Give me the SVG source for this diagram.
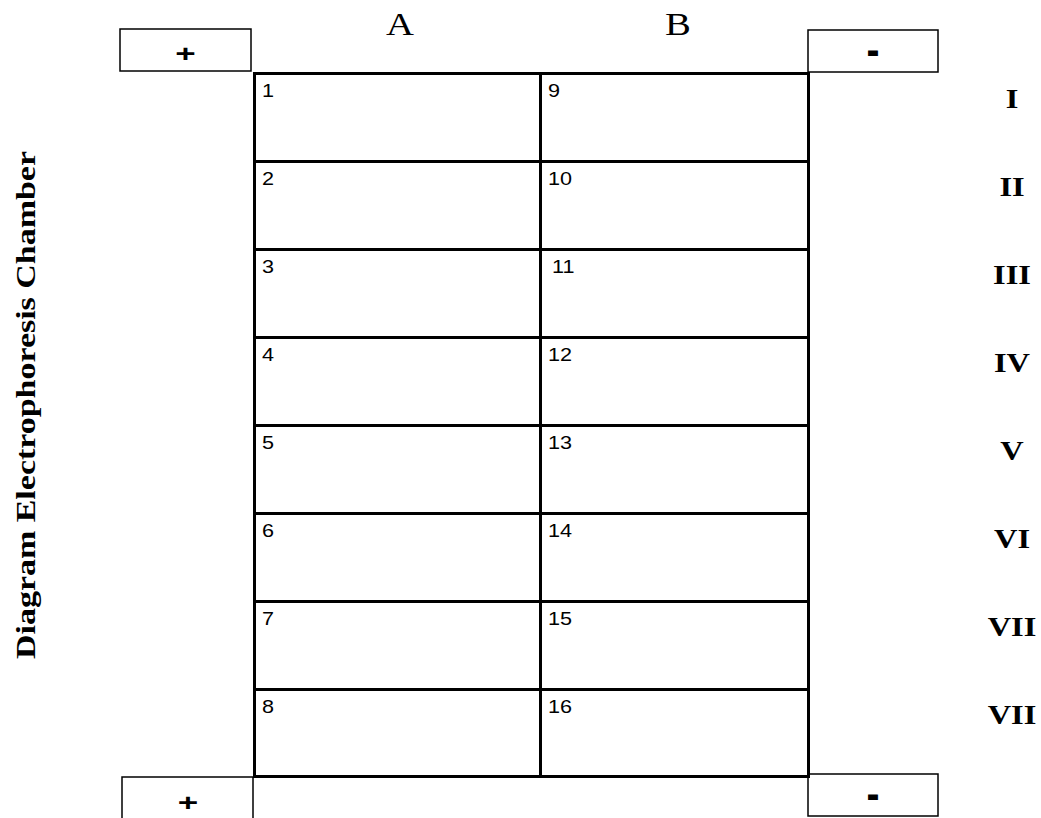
<svg xmlns="http://www.w3.org/2000/svg" width="1041" height="818" viewBox="0 0 1041 818">
<style>
.grid{fill:none;stroke:#000;stroke-width:3}
.box{fill:#fff;stroke:#000;stroke-width:1.5}
.num{font-family:"Liberation Sans",Arial,sans-serif;font-size:18px;fill:#000}
.sign{font-family:"Liberation Sans",Arial,sans-serif;font-size:28px;font-weight:bold;fill:#000;text-anchor:middle}
.minus{font-family:"Liberation Sans",Arial,sans-serif;font-size:26px;font-weight:bold;fill:#000;text-anchor:middle}
.col{font-family:"Liberation Serif","Times New Roman",serif;font-size:31px;fill:#000;text-anchor:middle}
.rom{font-family:"Liberation Serif","Times New Roman",serif;font-size:27px;font-weight:bold;fill:#000;text-anchor:middle}
.title{font-family:"Liberation Serif","Times New Roman",serif;font-size:28px;font-weight:bold;fill:#000;text-anchor:middle}
</style>
<rect width="1041" height="818" fill="#fff"/>
<g id="title"><text class="title" transform="translate(35,405) rotate(-90)" textLength="508" lengthAdjust="spacingAndGlyphs">Diagram Electrophoresis Chamber</text></g>
<g id="col-A"><text class="col" transform="translate(400,35) scale(1.25,1)">A</text></g>
<g id="col-B"><text class="col" transform="translate(678,35) scale(1.25,1)">B</text></g>
<g id="plus-top"><rect class="box" x="120" y="29" width="131" height="42"/><text class="sign" transform="translate(185.5,61.5) scale(1.25,0.85)">+</text></g>
<g id="minus-top"><rect class="box" x="808" y="30" width="130" height="42"/><text class="minus" transform="translate(873,65) scale(1.5,1.8)">-</text></g>
<g id="plus-bottom"><path class="box" d="M122,830 V777 H253 V830"/><text class="sign" transform="translate(188,810.5) scale(1.25,0.85)">+</text></g>
<g id="minus-bottom"><rect class="box" x="808" y="774" width="130" height="42"/><text class="minus" transform="translate(873,808.5) scale(1.5,1.8)">-</text></g>
<g id="chamber">
<rect class="grid" x="254.5" y="73.5" width="554" height="703"/>
<path class="grid" d="M540.5,73 V777 M254,161.5 H809 M254,249.5 H809 M254,337.5 H809 M254,425.5 H809 M254,513.5 H809 M254,601.5 H809 M254,689.5 H809"/>
</g>
<g id="cells">
<g id="cell-1"><text class="num" transform="translate(262,97) scale(1.2,1)">1</text></g>
<g id="cell-2"><text class="num" transform="translate(262,185) scale(1.2,1)">2</text></g>
<g id="cell-3"><text class="num" transform="translate(262,273) scale(1.2,1)">3</text></g>
<g id="cell-4"><text class="num" transform="translate(262,361) scale(1.2,1)">4</text></g>
<g id="cell-5"><text class="num" transform="translate(262,449) scale(1.2,1)">5</text></g>
<g id="cell-6"><text class="num" transform="translate(262,537) scale(1.2,1)">6</text></g>
<g id="cell-7"><text class="num" transform="translate(262,625) scale(1.2,1)">7</text></g>
<g id="cell-8"><text class="num" transform="translate(262,713) scale(1.2,1)">8</text></g>
<g id="cell-9"><text class="num" transform="translate(548,97) scale(1.2,1)">9</text></g>
<g id="cell-10"><text class="num" transform="translate(548,185) scale(1.2,1)">10</text></g>
<g id="cell-11"><text class="num" transform="translate(552,273) scale(1.2,1)">11</text></g>
<g id="cell-12"><text class="num" transform="translate(548,361) scale(1.2,1)">12</text></g>
<g id="cell-13"><text class="num" transform="translate(548,449) scale(1.2,1)">13</text></g>
<g id="cell-14"><text class="num" transform="translate(548,537) scale(1.2,1)">14</text></g>
<g id="cell-15"><text class="num" transform="translate(548,625) scale(1.2,1)">15</text></g>
<g id="cell-16"><text class="num" transform="translate(548,713) scale(1.2,1)">16</text></g>
</g>
<g id="rows">
<text class="rom" transform="translate(1012,108) scale(1.2,1)">I</text>
<text class="rom" transform="translate(1012,196) scale(1.2,1)">II</text>
<text class="rom" transform="translate(1012,284) scale(1.2,1)">III</text>
<text class="rom" transform="translate(1012,372) scale(1.2,1)">IV</text>
<text class="rom" transform="translate(1012,460) scale(1.2,1)">V</text>
<text class="rom" transform="translate(1012,548) scale(1.2,1)">VI</text>
<text class="rom" transform="translate(1012,636) scale(1.2,1)">VII</text>
<text class="rom" transform="translate(1012,724) scale(1.2,1)">VII</text>
</g>
</svg>
